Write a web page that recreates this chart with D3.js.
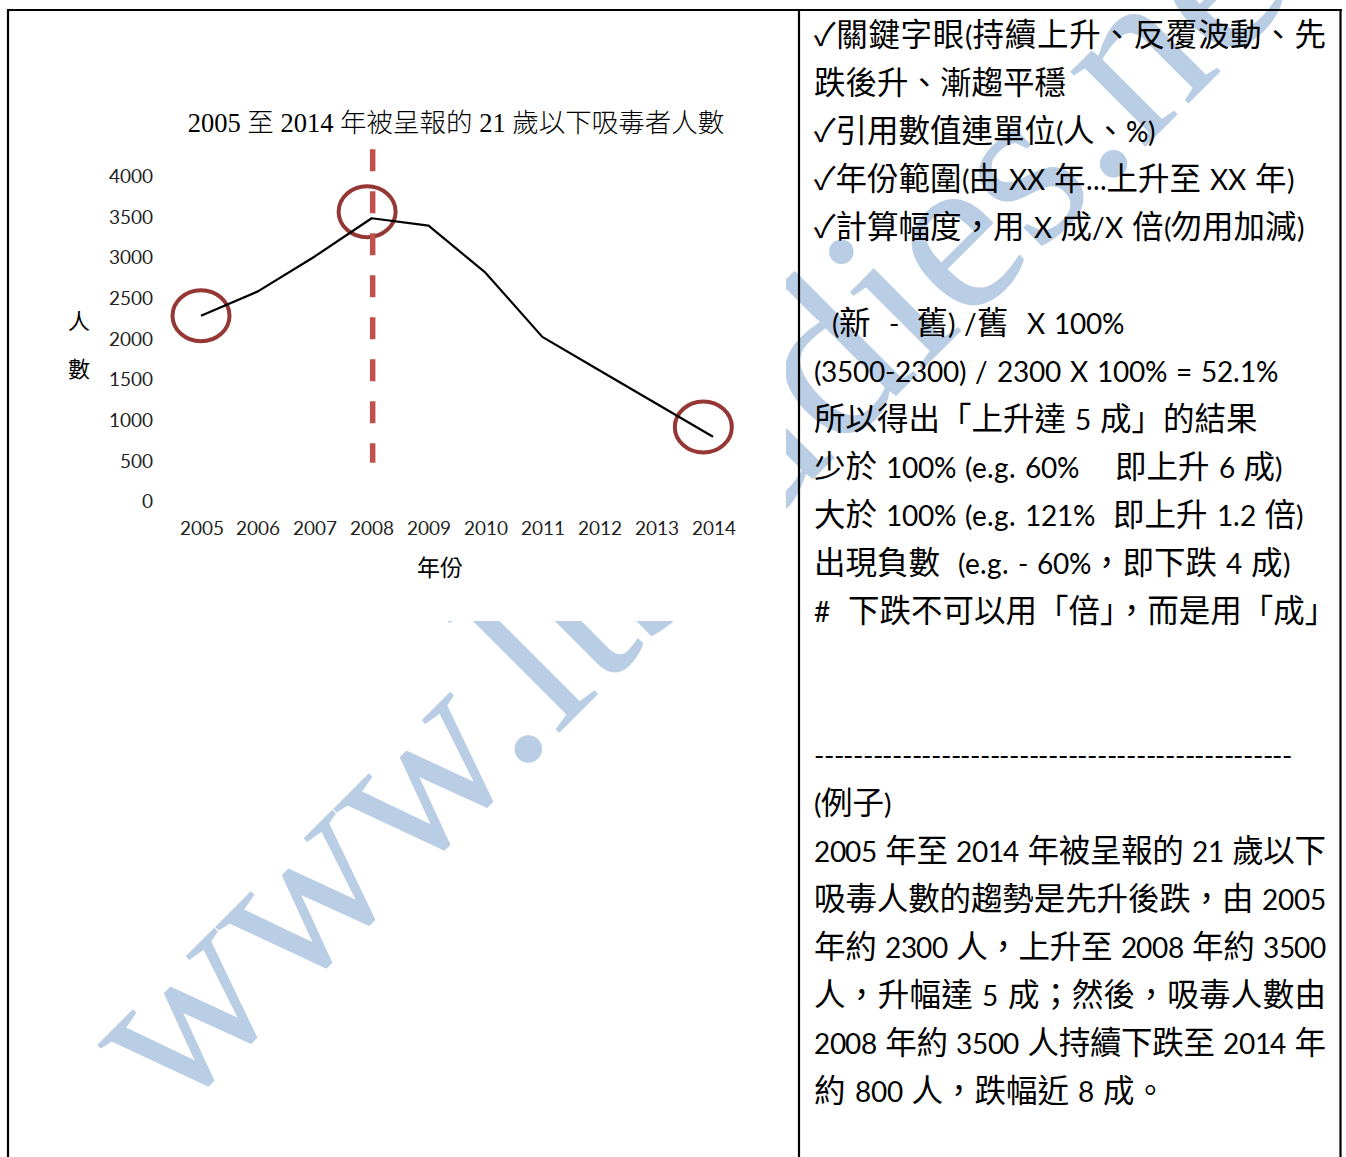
<!DOCTYPE html>
<html>
<head>
<meta charset="utf-8">
<script src="https://cdn.jsdelivr.net/npm/d3@7"></script>
<style>
@font-face {
  font-family: "LatinCal";
  src: local("Lato Regular"), local("Lato-Regular"), local("Lato");
  size-adjust: 90%;
  unicode-range: U+0020-007E, U+00A0-00FF;
}
body { margin: 0; background: #fff; }
</style>
</head>
<body>
<div id="chart"></div>
<script>
// data
const years = [2005, 2006, 2007, 2008, 2009, 2010, 2011, 2012, 2013, 2014];
const users = [2280, 2580, 3010, 3480, 3390, 2810, 2020, 1610, 1200, 790];
const yTicks = [0, 500, 1000, 1500, 2000, 2500, 3000, 3500, 4000];

// hand drawn marks on the chart
const circleYears = [2005, 2007.92, 2013.83];
const circleValues = [2280, 3560, 910];
const markYear = 2008;
const markRange = [470, 4330];

const title = "2005 至 2014 年被呈報的 21 歲以下吸毒者人數";
const yLabel = ["人", "數"];
const xLabel = "年份";

const noteLines = [
  "✓關鍵字眼(持續上升、反覆波動、先",
  "跌後升、漸趨平穩",
  "✓引用數值連單位(人、%)",
  "✓年份範圍(由 XX 年...上升至 XX 年)",
  "✓計算幅度，用 X 成/X 倍(勿用加減)",
  "",
  "  (新  -  舊) /舊  X 100%",
  "(3500-2300) / 2300 X 100% = 52.1%",
  "所以得出「上升達 5 成」的結果",
  "少於 100% (e.g. 60%    即上升 6 成)",
  "大於 100% (e.g. 121%  即上升 1.2 倍)",
  "出現負數  (e.g. - 60%，即下跌 4 成)",
  "#  下跌不可以用「倍」，而是用「成」",
  "",
  "",
  "-------------------------------------------------",
  "(例子)",
  "2005 年至 2014 年被呈報的 21 歲以下",
  "吸毒人數的趨勢是先升後跌，由 2005",
  "年約 2300 人，上升至 2008 年約 3500",
  "人，升幅達 5 成；然後，吸毒人數由",
  "2008 年約 3500 人持續下跌至 2014 年",
  "約 800 人，跌幅近 8 成。"
];
const justified = [0, 15, 17, 18, 19, 20, 21];

const watermark = "www.ltstudies.net";

const W = 1346, H = 1157;
const cjk = "'Noto Sans CJK TC', 'Noto Sans CJK SC', sans-serif";
const bodyFont = "LatinCal, " + cjk;
const titleFont = "'Liberation Serif', " + cjk;

const svg = d3.select("#chart").append("svg")
    .attr("width", W)
    .attr("height", H);

svg.append("rect").attr("width", W).attr("height", H).attr("fill", "#fff");

// watermark behind everything, clipped to the page
svg.append("clipPath").attr("id", "page")
    .append("rect").attr("width", W).attr("height", H);
svg.append("g").attr("clip-path", "url(#page)")
  .append("text")
    .attr("transform", "translate(172,1120) rotate(-45)")
    .attr("font-family", "'Liberation Serif', 'DejaVu Serif', serif")
    .attr("font-size", 231)
    .attr("fill", "#b9cde5")
    .text(watermark);

// the chart picture is opaque white
svg.append("rect").attr("x", 10).attr("y", 11).attr("width", 776).attr("height", 610).attr("fill", "#fff");

const x = d3.scaleLinear().domain([2005, 2014]).range([201, 713]);
const y = d3.scaleLinear().domain([0, 4000]).range([501, 176]);

svg.append("text")
    .attr("x", 456).attr("y", 123)
    .attr("text-anchor", "middle")
    .attr("dominant-baseline", "central")
    .attr("font-family", titleFont)
    .attr("font-size", 26.5)
    .attr("font-weight", 300)
    .text(title);

const yAxis = svg.append("g")
    .attr("transform", "translate(153,0)")
    .call(d3.axisLeft(y).tickValues(yTicks).tickFormat(d3.format("d")).tickSize(0).tickPadding(0));
yAxis.select(".domain").remove();
yAxis.attr("font-family", null).attr("font-size", null);
yAxis.selectAll("text").attr("font-family", bodyFont).attr("font-size", 21).attr("fill", "#222");

const xAxis = svg.append("g")
    .attr("transform", "translate(0,528)")
    .call(d3.axisBottom(x).tickValues(years).tickFormat(d3.format("d")).tickSize(0).tickPadding(0));
xAxis.select(".domain").remove();
xAxis.attr("font-family", null).attr("font-size", null);
xAxis.selectAll("text").attr("y", 0).attr("dy", "0.35em")
    .attr("font-family", bodyFont).attr("font-size", 21).attr("fill", "#222");

yLabel.forEach((c, i) => {
    svg.append("text")
        .attr("x", 79).attr("y", 319 + i * 48)
        .attr("text-anchor", "middle")
        .attr("dominant-baseline", "central")
        .attr("font-family", cjk).attr("font-size", 22)
        .text(c);
});

svg.append("text")
    .attr("x", 440).attr("y", 566)
    .attr("text-anchor", "middle")
    .attr("dominant-baseline", "central")
    .attr("font-family", cjk).attr("font-size", 23)
    .text(xLabel);

// red circles round the key years
svg.selectAll("ellipse.mark")
    .data(circleYears.map((yr, i) => ({ yr, v: circleValues[i] })))
    .join("ellipse")
    .attr("class", "mark")
    .attr("cx", d => x(d.yr))
    .attr("cy", d => y(d.v))
    .attr("rx", 28.5).attr("ry", 25.5)
    .attr("fill", "none")
    .attr("stroke", "#953735")
    .attr("stroke-width", 4);

const line = d3.line().x((d, i) => x(years[i])).y(d => y(d));
svg.append("path")
    .datum(users)
    .attr("d", line)
    .attr("fill", "none")
    .attr("stroke", "#000")
    .attr("stroke-width", 2.2)
    .attr("stroke-linejoin", "round");

svg.append("line")
    .attr("x1", x(markYear) + 1).attr("x2", x(markYear) + 1)
    .attr("y1", y(markRange[1])).attr("y2", y(markRange[0]))
    .attr("stroke", "#c0504d")
    .attr("stroke-width", 5.5)
    .attr("stroke-dasharray", "22 20");

// notes column
noteLines.forEach((t, i) => {
    if (!t) return;
    const el = svg.append("text")
        .attr("x", 814).attr("y", 35 + i * 48)
        .attr("dominant-baseline", "central")
        .attr("font-family", bodyFont)
        .attr("font-size", 31.5)
        .attr("word-spacing", 2)
        .style("white-space", "pre")
        .text(t);
    if (justified.includes(i)) {
        el.attr("textLength", i === 15 ? 478 : 512).attr("lengthAdjust", "spacing");
    }
});

// table borders
const borders = [
    [7, 10, 1342, 10],
    [8, 10, 8, H],
    [799, 10, 799, H],
    [1340.5, 10, 1340.5, H]
];
svg.selectAll("line.border")
    .data(borders)
    .join("line")
    .attr("class", "border")
    .attr("x1", d => d[0]).attr("y1", d => d[1])
    .attr("x2", d => d[2]).attr("y2", d => d[3])
    .attr("stroke", "#000")
    .attr("stroke-width", 2.2);
</script>
</body>
</html>
